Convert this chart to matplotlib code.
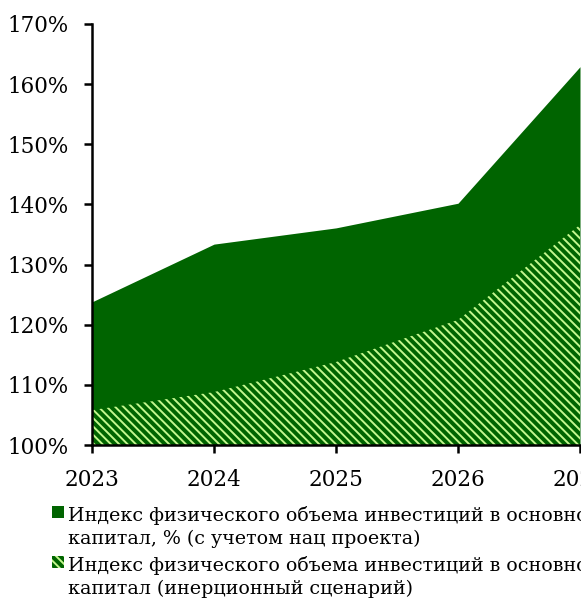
import matplotlib
matplotlib.use("Agg")
import matplotlib.pyplot as plt
from matplotlib.patches import Rectangle
from matplotlib.ticker import FuncFormatter

# Data
years = [2023, 2024, 2025, 2026, 2027]
with_project = [123.8, 133.4, 136.1, 140.2, 162.9]   # с учетом нац проекта
inertial = [105.8, 108.8, 113.8, 120.8, 136.6]       # инерционный сценарий

label_project = "Индекс физического объема инвестиций в основной\nкапитал, % (с учетом нац проекта)"
label_inertial = "Индекс физического объема инвестиций в основной\nкапитал (инерционный сценарий)"

dark = "#006400"
light = "#c4f78e"
hatch = "\\" * 4

plt.rcParams["font.family"] = ["DejaVu Serif"]
plt.rcParams["hatch.linewidth"] = 1.4

W, H = 581, 601
fig = plt.figure(figsize=(W / 100, H / 100), dpi=100)
ax = fig.add_axes([92 / W, 156 / H, 488 / W, 421 / H])

ax.fill_between(years, 100, with_project, color=dark, linewidth=0)
ax.fill_between(years, 100, inertial, facecolor=dark, edgecolor=light,
                hatch=hatch, linewidth=0)

ax.set_xlim(2023, 2027)
ax.set_ylim(100, 170)
ax.set_xticks(years)
ax.set_yticks(range(100, 171, 10))
ax.yaxis.set_major_formatter(FuncFormatter(lambda v, p: f"{v:.0f}%"))

for s in ["top", "right"]:
    ax.spines[s].set_visible(False)
for s in ["left", "bottom"]:
    ax.spines[s].set_linewidth(1.8)
    ax.spines[s].set_zorder(5)
ax.tick_params(axis="both", direction="out", length=6, width=1.8,
               labelsize=15.5, pad=11)

# legend drawn by hand: square aligned with the first line of each label
entries = [(label_project, None, 519), (label_inertial, hatch, 569)]
for text, h, base in entries:
    sq = Rectangle((52 / W, 1 - (base - 1) / H), 12 / W, 12 / H,
                   transform=fig.transFigure, facecolor=dark,
                   edgecolor=light if h else dark, hatch=h, linewidth=0)
    fig.patches.append(sq)
    # va="baseline" aligns the last line, which sits 25 px below the first
    fig.text(68 / W, 1 - (base + 25) / H, text, fontsize=13.7, va="baseline",
             ha="left", linespacing=1.32)

fig.savefig("out.png", dpi=100)
